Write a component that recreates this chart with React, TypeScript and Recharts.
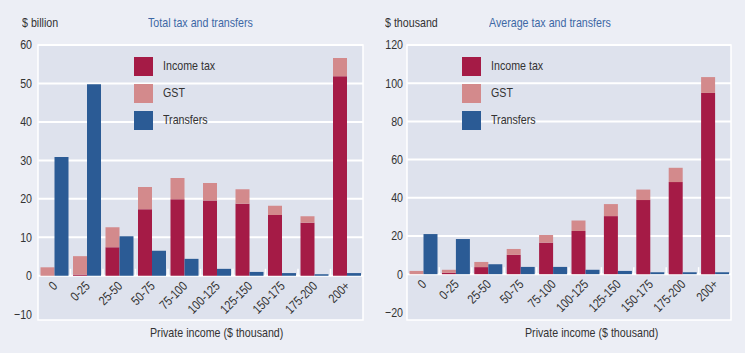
import React from "react";
import {
	BarChart,
	Bar,
	XAxis,
	YAxis,
	CartesianGrid,
	ReferenceArea,
} from "recharts";

const categories = ["0", "0-25", "25-50", "50-75", "75-100", "100-125", "125-150", "150-175", "175-200", "200+"];

// left panel, $ billion
const totalIncomeTax = [0, 0.3, 7.4, 17.3, 19.9, 19.6, 18.7, 15.8, 13.8, 51.9];
const totalGst = [2.2, 4.8, 5.2, 5.8, 5.5, 4.5, 3.8, 2.4, 1.7, 4.7];
const totalTransfers = [30.9, 49.8, 10.3, 6.5, 4.4, 1.8, 1.0, 0.7, 0.4, 0.7];
const totalTicks = [-10, 0, 10, 20, 30, 40, 50, 60];

// right panel, $ thousand
const avgIncomeTax = [0, 0.7, 3.7, 10.1, 16.5, 22.6, 30.4, 38.8, 48.2, 94.9];
const avgGst = [1.7, 1.6, 2.7, 3.1, 4.0, 5.5, 6.3, 5.5, 7.5, 8.3];
const avgTransfers = [21.0, 18.4, 5.2, 3.8, 3.8, 2.3, 1.7, 1.0, 1.0, 1.0];
const avgTicks = [-20, 0, 20, 40, 60, 80, 100, 120];

const INCOME = "#a51b46";
const GST = "#d38a8c";
const TRANSFERS = "#2b5b95";
const PLOT_BG = "#dee2ed";
const PAGE_BG = "#eceef5";
const TEXT = "#333";
const BLUE = "#3d68a5";
const FONT = "'Liberation Sans', Arial, sans-serif";
const SQUEEZE = 0.82; // no narrow face installed, so squash the regular one

const TOP = 45;
const BOTTOM = 33;
const HEIGHT = 353;

const legendItems = [
	{ label: "Income tax", color: INCOME },
	{ label: "GST", color: GST },
	{ label: "Transfers", color: TRANSFERS },
];

const buildRows = (income: number[], gst: number[], transfers: number[]) =>
	categories.map((name, i) => ({
		name,
		income: income[i],
		gst: gst[i],
		transfers: transfers[i],
	}));

const Narrow = ({ children, color = TEXT, style = {} }: any) => (
	<div
		style={{
			position: "absolute",
			fontSize: 13,
			fontFamily: FONT,
			color,
			whiteSpace: "nowrap",
			transform: `scaleX(${SQUEEZE})`,
			transformOrigin: "left center",
			...style,
		}}>
		{children}
	</div>
);

const minus = (v: number) => String(v).replace("-", "\u2212");

type PanelProps = {
	width: number;
	yWidth: number;
	marginRight: number;
	labelGap: number;
	unit: string;
	unitX: number;
	title: string;
	titleX: number;
	legendX: number;
	xLabelX: number;
	rows: any[];
	domain: [number, number];
	ticks: number[];
};

const Panel = (p: PanelProps) => {
	const plotW = p.width - p.yWidth - p.marginRight;
	const plotH = HEIGHT - TOP - BOTTOM;
	const band = plotW / categories.length;
	const zeroY = TOP + (p.domain[1] / (p.domain[1] - p.domain[0])) * plotH;
	const gridValues = p.ticks.filter((t) => t >= 0);

	const renderXTick = (props: any) => {
		const { x, payload, index } = props;
		const ax = x + 4;
		const ay = zeroY + 11;
		return (
			<g>
				{index > 0 && (
					<line
						x1={x - band / 2}
						x2={x - band / 2}
						y1={zeroY - 7}
						y2={zeroY}
						stroke='#fff'
						strokeWidth={1.5}
					/>
				)}
				<text
					textAnchor='end'
					fontSize={13}
					fontFamily={FONT}
					fill={TEXT}
					transform={`translate(${ax}, ${ay}) rotate(-45) scale(${SQUEEZE}, 1)`}>
					{payload.value}
				</text>
			</g>
		);
	};

	const renderYTick = (props: any) => {
		const { y, payload } = props;
		return (
			<text
				textAnchor='end'
				dominantBaseline='central'
				fontSize={13}
				fontFamily={FONT}
				fill={TEXT}
				transform={`translate(${p.yWidth - p.labelGap}, ${y}) scale(${SQUEEZE}, 1)`}>
				{minus(payload.value)}
			</text>
		);
	};

	return (
		<div style={{ position: "relative", width: p.width, height: HEIGHT }}>
			<Narrow style={{ left: p.unitX, top: 15 }}>{p.unit}</Narrow>
			<Narrow color={BLUE} style={{ left: p.titleX, top: 15 }}>
				{p.title}
			</Narrow>
			<BarChart
				width={p.width}
				height={HEIGHT}
				data={p.rows}
				barCategoryGap={2.5}
				barGap={0}
				margin={{ top: TOP, right: p.marginRight, left: 0, bottom: 0 }}>
				<CartesianGrid
					vertical={false}
					horizontalValues={gridValues}
					stroke='#fff'
					strokeWidth={2}
					fill={PLOT_BG}
					fillOpacity={1}
				/>
				<ReferenceArea
					y1={p.domain[0]}
					y2={p.domain[1]}
					fill='none'
					stroke='#fff'
					strokeWidth={1.5}
				/>
				<XAxis
					dataKey='name'
					height={BOTTOM}
					axisLine={false}
					tickLine={false}
					interval={0}
					tick={renderXTick}
				/>
				<YAxis
					width={p.yWidth}
					domain={p.domain}
					ticks={p.ticks}
					allowDataOverflow
					axisLine={false}
					tickLine={false}
					tick={renderYTick}
				/>
				<Bar dataKey='income' stackId='a' fill={INCOME} isAnimationActive={false} />
				<Bar dataKey='gst' stackId='a' fill={GST} isAnimationActive={false} />
				<Bar dataKey='transfers' fill={TRANSFERS} isAnimationActive={false} />
			</BarChart>
			<div style={{ position: "absolute", left: p.legendX, top: 57 }}>
				{legendItems.map((it) => (
					<div key={it.label} style={{ position: "relative", height: 19, marginBottom: 8 }}>
						<span
							style={{
								position: "absolute",
								left: 0,
								top: 0,
								width: 19,
								height: 19,
								background: it.color,
							}}
						/>
						<Narrow style={{ left: 29, top: 1 }}>{it.label}</Narrow>
					</div>
				))}
			</div>
			<Narrow style={{ left: p.xLabelX, top: 325 }}>Private income ($ thousand)</Narrow>
		</div>
	);
};

export default function App() {
	return (
		<div
			style={{
				position: "absolute",
				left: 0,
				top: 0,
				width: 745,
				height: HEIGHT,
				background: PAGE_BG,
				display: "flex",
			}}>
			<Panel
				width={372}
				yWidth={38}
				marginRight={9}
				labelGap={6}
				unit='$ billion'
				unitX={22}
				title='Total tax and transfers'
				titleX={148}
				legendX={134}
				xLabelX={150}
				rows={buildRows(totalIncomeTax, totalGst, totalTransfers)}
				domain={[-11.5, 60]}
				ticks={totalTicks}
			/>
			<Panel
				width={373}
				yWidth={35}
				marginRight={14}
				labelGap={4}
				unit='$ thousand'
				unitX={13}
				title='Average tax and transfers'
				titleX={117}
				legendX={90}
				xLabelX={153}
				rows={buildRows(avgIncomeTax, avgGst, avgTransfers)}
				domain={[-24, 120]}
				ticks={avgTicks}
			/>
		</div>
	);
}
